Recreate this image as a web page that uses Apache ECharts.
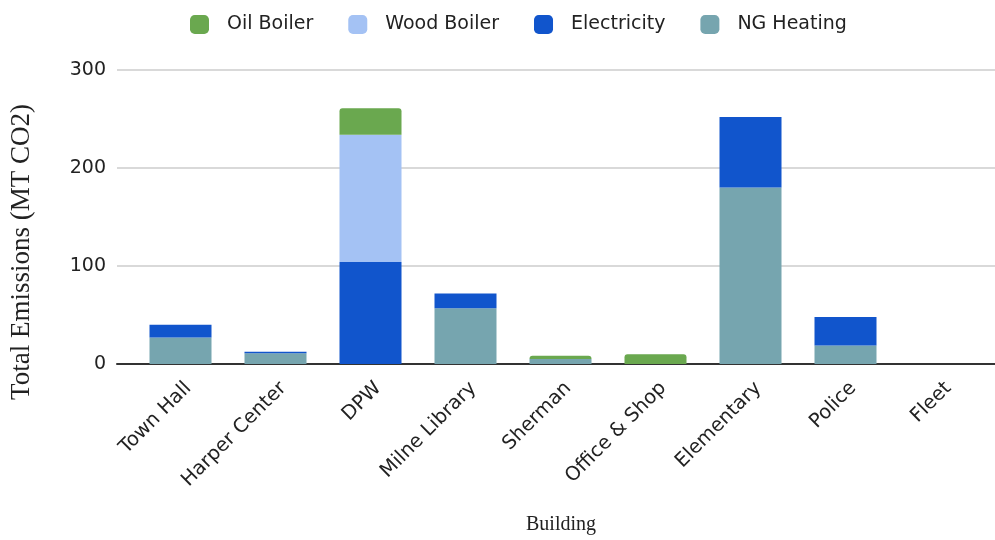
<!DOCTYPE html>
<html>
<head>
<meta charset="utf-8">
<script src="https://cdn.jsdelivr.net/npm/echarts@6/dist/echarts.min.js"></script>
<style>
  html, body { margin: 0; padding: 0; background: #fff; }
  #chart { width: 995px; height: 540px; }
</style>
</head>
<body>
<div id="chart"></div>
<script>
// Building emissions by source (MT CO2)
const buildings = ['Town Hall', 'Harper Center', 'DPW', 'Milne Library', 'Sherman', 'Office & Shop', 'Elementary', 'Police', 'Fleet'];
const ngHeating   = [27, 11, 0, 57, 5, 0, 180, 19, 0];
const electricity = [13, 1.5, 104, 15, 0, 0, 72, 29, 0];
const woodBoiler  = [0, 0, 130, 0, 0, 0, 0, 0, 0];
const oilBoiler   = [0, 0, 27, 0, 3.5, 10, 0, 0, 0];
const yTicks = [0, 100, 200, 300];

const colors = {
  oil: '#6aa84f',
  wood: '#a4c2f4',
  elec: '#1155cc',
  ng: '#76a5af'
};

const chart = echarts.init(document.getElementById('chart'));
const font = '"DejaVu Sans", Arial, sans-serif';
const serif = '"Liberation Serif", "Times New Roman", serif';

function barSeries(name, data, color, radius) {
  return {
    name: name,
    type: 'bar',
    stack: 'total',
    xAxisIndex: 0,
    yAxisIndex: 0,
    barWidth: 62,
    data: data,
    itemStyle: { color: color, borderRadius: radius || 0 },
    emphasis: { disabled: true }
  };
}

chart.setOption({
  animation: false,
  textStyle: { fontFamily: font },
  legend: {
    top: 10,
    left: 185,
    itemWidth: 19,
    itemHeight: 19,
    itemGap: 35,
    icon: 'roundRect',
    textStyle: { fontSize: 19, color: '#222', fontFamily: font, padding: [0, 0, 0, 13] },
    data: ['Oil Boiler', 'Wood Boiler', 'Electricity', 'NG Heating']
  },
  grid: [
    { left: 133, right: 7, top: 70, bottom: 176 },
    { left: 117, right: 0, top: 70, bottom: 176 }
  ],
  xAxis: [
    {
      type: 'category',
      gridIndex: 0,
      data: buildings,
      axisLine: { show: false },
      axisTick: { show: false },
      axisLabel: {
        rotate: 45,
        fontSize: 19.5,
        color: '#222',
        margin: 29,
        padding: [0, -11, 0, 0],
        interval: 0,
        fontFamily: font
      }
    },
    {
      type: 'value',
      gridIndex: 1,
      min: 0,
      max: 1,
      axisLine: { show: true, onZero: false, lineStyle: { color: '#333', width: 2 } },
      axisTick: { show: false },
      axisLabel: { show: false },
      splitLine: { show: false }
    }
  ],
  yAxis: [
    {
      type: 'value',
      gridIndex: 0,
      min: 0,
      max: 300,
      interval: 100,
      axisLine: { show: false },
      axisTick: { show: false },
      axisLabel: { show: false },
      splitLine: { show: false }
    },
    {
      type: 'value',
      gridIndex: 1,
      min: 0,
      max: 300,
      interval: 100,
      axisLine: { show: false },
      axisTick: { show: false },
      axisLabel: {
        fontSize: 19,
        color: '#222',
        margin: 11,
        fontFamily: font,
        formatter: function (v) { return yTicks.indexOf(v) >= 0 ? String(v) : ''; }
      },
      splitLine: { show: true, lineStyle: { color: '#cccccc', width: 1.5 } }
    }
  ],
  graphic: [
    {
      type: 'text',
      x: 22,
      y: 252,
      rotation: Math.PI / 2,
      style: {
        text: 'Total Emissions (MT CO2)',
        font: '27px ' + serif,
        fill: '#222',
        align: 'center',
        verticalAlign: 'middle'
      }
    },
    {
      type: 'text',
      x: 561,
      y: 525,
      style: {
        text: 'Building',
        font: '20px ' + serif,
        fill: '#222',
        align: 'center',
        verticalAlign: 'middle'
      }
    }
  ],
  series: [
    barSeries('NG Heating', ngHeating, colors.ng),
    barSeries('Electricity', electricity, colors.elec),
    barSeries('Wood Boiler', woodBoiler, colors.wood),
    barSeries('Oil Boiler', oilBoiler, colors.oil, [3, 3, 0, 0])
  ]
});
</script>
</body>
</html>
